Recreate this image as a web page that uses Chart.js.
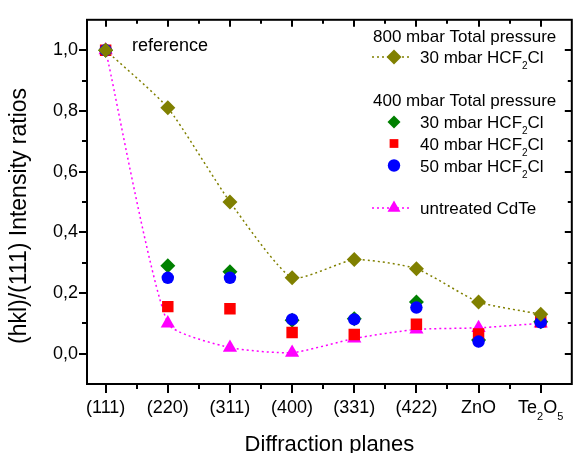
<!DOCTYPE html>
<html>
<head>
<meta charset="utf-8">
<script src="https://cdn.jsdelivr.net/npm/chart.js@4.4.1/dist/chart.umd.min.js"></script>
<style>
  html, body { margin: 0; padding: 0; background: #fff; overflow: hidden; }
  #wrap { width: 580px; height: 460px; }
</style>
</head>
<body>
<div id="wrap"><canvas id="planesChart"></canvas></div>
<script>
// x categories, "_" marks the next character as a subscript
const planes = ["(111)", "(220)", "(311)", "(400)", "(331)", "(422)", "ZnO", "Te_2O_5"];

// 800 mbar total pressure
const hcf30at800 = [1.0, 0.81, 0.50, 0.25, 0.31, 0.28, 0.17, 0.13];
// 400 mbar total pressure
const hcf30at400 = [1.0, 0.29, 0.27, 0.11, 0.115, 0.17, 0.045, 0.105];
const hcf40at400 = [1.0, 0.155, 0.148, 0.07, 0.063, 0.097, 0.065, 0.105];
const hcf50at400 = [1.0, 0.25, 0.25, 0.113, 0.113, 0.152, 0.04, 0.103];
// untreated CdTe
const untreatedCdTe = [1.0, 0.10, 0.02, 0.003, 0.05, 0.08, 0.085, 0.10];

const yTicks = [0, 0.2, 0.4, 0.6, 0.8, 1.0];

const FONT = "'Liberation Sans', Arial, Helvetica, sans-serif";

function toPoints(values) {
  return values.map((v, i) => ({ x: i, y: v }));
}

// split "HCF_2Cl" into normal / subscript pieces
function pieces(text) {
  const out = [];
  for (let i = 0; i < text.length; i++) {
    if (text[i] === "_") {
      out.push({ t: text[i + 1], sub: true });
      i++;
    } else if (out.length && !out[out.length - 1].sub) {
      out[out.length - 1].t += text[i];
    } else {
      out.push({ t: text[i], sub: false });
    }
  }
  return out;
}

function drawRich(ctx, text, x, y, size, subSize, subShift, align) {
  const parts = pieces(text);
  let total = 0;
  parts.forEach((p) => {
    ctx.font = (p.sub ? subSize : size) + "px " + FONT;
    p.w = ctx.measureText(p.t).width;
    total += p.w;
  });
  let cx = align === "center" ? x - total / 2 : x;
  ctx.textAlign = "left";
  ctx.textBaseline = "alphabetic";
  parts.forEach((p) => {
    ctx.font = (p.sub ? subSize : size) + "px " + FONT;
    ctx.fillText(p.t, cx, p.sub ? y + subShift : y);
    cx += p.w;
  });
}

const legendRows = [
  { header: "800 mbar Total pressure", y: 41.5 },
  { label: "30 mbar HCF_2Cl", y: 57, color: "#808000", style: "rectRot", r: 7.5, line: true },
  { header: "400 mbar Total pressure", y: 106 },
  { label: "30 mbar HCF_2Cl", y: 122, color: "#008000", style: "rectRot", r: 6.5 },
  { label: "40 mbar HCF_2Cl", y: 143.5, color: "#ff0000", style: "rect", r: 6.2 },
  { label: "50 mbar HCF_2Cl", y: 165.5, color: "#0000ff", style: "circle", r: 6.2 },
  { label: "untreated CdTe", y: 208, color: "#ff00ff", style: "triangle", r: 7.5, line: true },
];

const decorations = {
  id: "decorations",
  beforeDatasetsDraw(chart) {
    const { ctx, chartArea: a, scales: { x, y } } = chart;
    ctx.save();
    ctx.strokeStyle = "#000";
    ctx.lineWidth = 2;
    ctx.strokeRect(a.left, a.top, a.right - a.left, a.bottom - a.top);
    const seg = (x1, y1, x2, y2) => {
      ctx.beginPath();
      ctx.moveTo(x1, y1);
      ctx.lineTo(x2, y2);
      ctx.stroke();
    };
    for (let v = 0; v <= 7; v += 0.5) {
      const px = Math.round(x.getPixelForValue(v));
      const major = Number.isInteger(v);
      seg(px, a.bottom, px, a.bottom + (major ? 9 : 5));
      seg(px, a.top, px, a.top + (major ? 7 : 4));
    }
    for (let k = 0; k <= 10; k++) {
      const py = Math.round(y.getPixelForValue(k / 10));
      const major = k % 2 === 0;
      seg(a.left - (major ? 8 : 5), py, a.left, py);
      seg(a.right - (major ? 7 : 4), py, a.right, py);
    }
    ctx.restore();
  },
  afterDraw(chart) {
    const { ctx, chartArea: a, scales: { x } } = chart;
    ctx.save();
    ctx.fillStyle = "#000";

    // x tick labels
    planes.forEach((name, i) => {
      drawRich(ctx, name, x.getPixelForValue(i), 413, 18, 11, 7, "center");
    });

    // axis titles
    ctx.font = "22px " + FONT;
    ctx.textAlign = "center";
    ctx.textBaseline = "alphabetic";
    ctx.fillText("Diffraction planes", (a.left + a.right) / 2, 451);

    ctx.save();
    ctx.translate(20, 216);
    ctx.rotate(-Math.PI / 2);
    ctx.font = "23px " + FONT;
    ctx.textBaseline = "middle";
    ctx.fillText("(hkl)/(111) Intensity ratios", 0, 0);
    ctx.restore();

    // note next to the first point
    ctx.font = "18px " + FONT;
    ctx.textAlign = "left";
    ctx.fillText("reference", 132, 51);

    // legend
    legendRows.forEach((row) => {
      if (row.header) {
        ctx.fillStyle = "#000";
        ctx.font = "17px " + FONT;
        ctx.textAlign = "left";
        ctx.fillText(row.header, 373, row.y);
        return;
      }
      if (row.line) {
        ctx.strokeStyle = row.color;
        ctx.lineWidth = 1.5;
        ctx.setLineDash([2, 3]);
        ctx.beginPath();
        ctx.moveTo(372, row.y);
        ctx.lineTo(412, row.y);
        ctx.stroke();
        ctx.setLineDash([]);
      }
      ctx.fillStyle = row.color;
      Chart.helpers.drawPoint(ctx, { pointStyle: row.style, radius: row.r, rotation: 0, borderWidth: 0 }, 394, row.y);
      ctx.fillStyle = "#000";
      drawRich(ctx, row.label, 420, row.y + 6, 17, 10, 6, "left");
    });
    ctx.restore();
  },
};

function series(values, color, style, radius, order, line) {
  return {
    data: toPoints(values),
    order: order,
    showLine: line,
    borderColor: color,
    backgroundColor: color,
    borderWidth: 1.5,
    borderDash: [2, 3],
    tension: 0.18,
    fill: false,
    pointStyle: style,
    pointRadius: radius,
    pointHoverRadius: radius,
    pointBackgroundColor: color,
    pointBorderColor: color,
    pointBorderWidth: 0,
  };
}

document.addEventListener("DOMContentLoaded", function () {
  const ctx = document.getElementById("planesChart").getContext("2d");

  new Chart(ctx, {
    type: "scatter",
    data: {
      datasets: [
        series(untreatedCdTe, "#ff00ff", "triangle", 8.2, 4, true),
        series(hcf30at400, "#008000", "rectRot", 7.5, 3, false),
        series(hcf40at400, "#ff0000", "rect", 8.1, 2, false),
        series(hcf50at400, "#0000ff", "circle", 6.2, 1, false),
        series(hcf30at800, "#808000", "rectRot", 7.5, 0, true),
      ],
    },
    options: {
      responsive: true,
      maintainAspectRatio: false,
      animation: false,
      layout: { padding: { top: 12.5, right: 4.5, bottom: 0, left: 0 } },
      plugins: {
        legend: { display: false },
        tooltip: { enabled: false },
      },
      scales: {
        x: {
          type: "linear",
          min: -0.3,
          max: 7.5,
          afterBuildTicks: (scale) => {
            scale.ticks = planes.map((_, i) => ({ value: i }));
          },
          afterFit: (scale) => {
            scale.height = 76;
          },
          ticks: { display: false },
          grid: { display: false, drawTicks: false },
          border: { display: false },
        },
        y: {
          type: "linear",
          min: -0.1,
          max: 1.1,
          afterBuildTicks: (scale) => {
            scale.ticks = yTicks.map((v) => ({ value: v }));
          },
          afterFit: (scale) => {
            scale.width = 87;
          },
          ticks: {
            padding: 9,
            color: "#000",
            font: { family: FONT, size: 18 },
            callback: (v) => v.toFixed(1).replace(".", ","),
          },
          grid: { display: false, drawTicks: false },
          border: { display: false },
        },
      },
    },
    plugins: [decorations],
  });
});
</script>
</body>
</html>
